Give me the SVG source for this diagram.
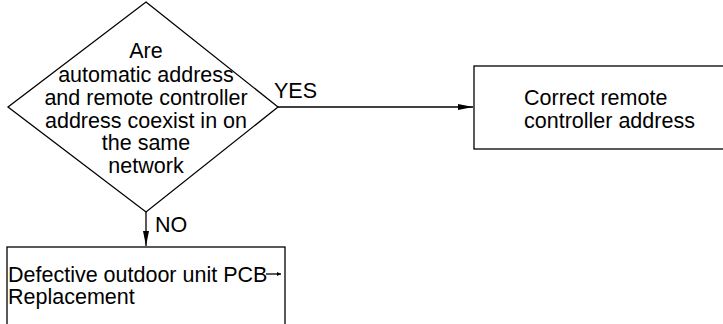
<svg xmlns="http://www.w3.org/2000/svg" width="723" height="324" viewBox="0 0 723 324">
<defs>
<marker id="arr" viewBox="0 0 15 6" refX="15" refY="3" markerWidth="15" markerHeight="6" markerUnits="userSpaceOnUse" orient="auto"><path d="M0,0 L15,3 L0,6 Z" fill="#000"/></marker>
<marker id="sarr" viewBox="0 0 4 4" refX="4" refY="2" markerWidth="4" markerHeight="4" markerUnits="userSpaceOnUse" orient="auto"><path d="M0,0 L4,2 L0,4 Z" fill="#000"/></marker>
</defs>
<style>
.s{fill:#fff;stroke:#000;stroke-width:1.3}
.t{font-family:"Liberation Sans",Arial,Helvetica,sans-serif;font-size:21.5px;fill:#000}
.c{text-anchor:middle}
.l{stroke:#000;stroke-width:1.3;fill:none}
</style>
<rect width="723" height="324" fill="#fff"/>
<g id="decision">
<polygon class="s" points="146,2 278,107 146,212 8,107"/>
<text class="t c" x="146" y="58">Are</text>
<text class="t c" x="146" y="82">automatic address</text>
<text class="t c" x="146" y="105">and remote controller</text>
<text class="t c" x="146" y="128">address coexist in on</text>
<text class="t c" x="146" y="150">the same</text>
<text class="t c" x="146" y="173">network</text>
</g>
<g id="correct">
<rect class="s" x="474" y="66" width="260" height="83"/>
<text class="t" x="524" y="105">Correct remote</text>
<text class="t" x="524" y="128">controller address</text>
</g>
<g id="replace">
<rect class="s" x="7" y="247" width="278" height="90"/>
<text class="t" x="8" y="282">Defective outdoor unit PCB</text>
<text class="t" x="8" y="304">Replacement</text>
<line class="l" x1="266" y1="274" x2="281" y2="274" marker-end="url(#sarr)"/>
</g>
<g id="connectors">
<line class="l" x1="278" y1="107" x2="473" y2="107" marker-end="url(#arr)"/>
<text class="t" x="274" y="98">YES</text>
<line class="l" x1="146" y1="212" x2="146" y2="246" marker-end="url(#arr)"/>
<text class="t" x="155" y="232">NO</text>
</g>
</svg>
